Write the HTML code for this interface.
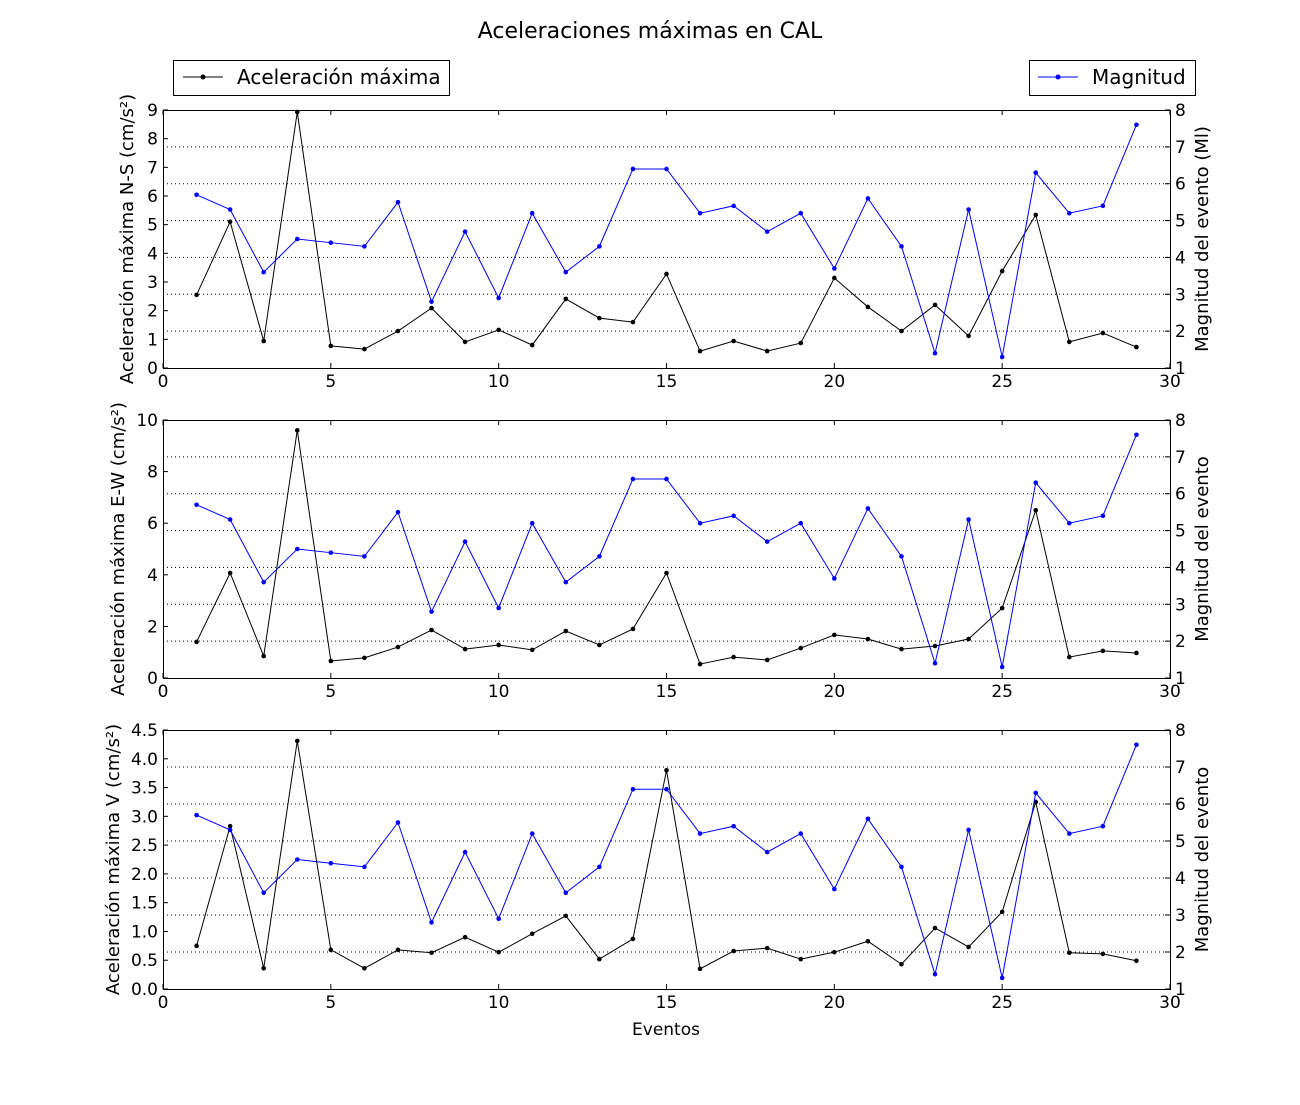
<!DOCTYPE html>
<html><head><meta charset="utf-8"><style>
body{margin:0;background:#fff}
text{font-family:"DejaVu Sans","Liberation Sans",sans-serif}
</style></head><body>
<svg id="c" width="1300" height="1100" xmlns="http://www.w3.org/2000/svg">
<rect width="1300" height="1100" fill="#fff"/>
<text x="650" y="38" text-anchor="middle" font-size="22">Aceleraciones máximas en CAL</text>
<g>
<rect x="173.5" y="60.5" width="276" height="35" fill="#fff" stroke="#000"/>
<line x1="183" y1="77" x2="223" y2="77" stroke="#000"/><circle cx="203" cy="77" r="2.5"/>
<text x="237" y="84" font-size="20">Aceleración máxima</text></g>
<g>
<rect x="1029.5" y="60.5" width="166" height="35" fill="#fff" stroke="#000"/>
<line x1="1038" y1="77" x2="1078" y2="77" stroke="#00f"/><circle cx="1058" cy="77" r="2.5" fill="#00f"/>
<text x="1092" y="84" font-size="20">Magnitud</text></g>
<text x="666" y="1035" text-anchor="middle" font-size="17">Eventos</text>
</svg>
<script>
const events=[1,2,3,4,5,6,7,8,9,10,11,12,13,14,15,16,17,18,19,20,21,22,23,24,25,26,27,28,29];
const magnitud=[5.7,5.3,3.6,4.5,4.4,4.3,5.5,2.8,4.7,2.9,5.2,3.6,4.3,6.4,6.4,5.2,5.4,4.7,5.2,3.7,5.6,4.3,1.4,5.3,1.3,6.3,5.2,5.4,7.6];
const accNS=[2.55,5.1,0.94,8.93,0.77,0.66,1.29,2.09,0.91,1.33,0.8,2.41,1.74,1.6,3.28,0.59,0.94,0.59,0.87,3.14,2.13,1.29,2.2,1.12,3.38,5.34,0.91,1.22,0.73];
const accEW=[1.4,4.07,0.85,9.6,0.66,0.78,1.2,1.86,1.12,1.28,1.09,1.82,1.28,1.9,4.07,0.54,0.81,0.7,1.16,1.67,1.51,1.12,1.24,1.51,2.71,6.5,0.81,1.05,0.97];
const accV=[0.75,2.83,0.36,4.31,0.68,0.36,0.68,0.63,0.9,0.64,0.96,1.27,0.52,0.87,3.8,0.35,0.66,0.71,0.52,0.64,0.83,0.43,1.06,0.73,1.34,3.25,0.63,0.61,0.49];
const xTicks=[0,5,10,15,20,25,30];
const magTicks=[1,2,3,4,5,6,7,8];
const nsTicks=[0,1,2,3,4,5,6,7,8,9];
const ewTicks=[0,2,4,6,8,10];
const vTicks=[0,0.5,1.0,1.5,2.0,2.5,3.0,3.5,4.0,4.5];

const svg=document.getElementById('c');
const NS='http://www.w3.org/2000/svg';
function mk(t,a,p){const e=document.createElementNS(NS,t);for(const k in a)e.setAttribute(k,a[k]);(p||svg).appendChild(e);return e;}
const L=163,R=1170;
const xs=v=>L+(v-0)/30*(R-L);
function panel(top,bot,acc,ticks,ymax,dec,ylab,rlab,name){
  const g=mk('g',{});
  
  
  const ys=v=>bot-v/ymax*(bot-top);
  const ms=v=>bot-(v-1)/7*(bot-top);
  magTicks.forEach(t=>{if(t>1&&t<8)mk('line',{x1:L,x2:R,y1:ms(t),y2:ms(t),stroke:'#000','stroke-dasharray':'1,3','stroke-width':1},g);});
  mk('rect',{x:L+.5,y:top+.5,width:R-L,height:bot-top,fill:'none',stroke:'#000'},g);
  xTicks.forEach(t=>{const x=xs(t);
    mk('line',{x1:x,x2:x,y1:bot,y2:bot-5,stroke:'#000'},g);mk('line',{x1:x,x2:x,y1:top,y2:top+5,stroke:'#000'},g);
    const tx=mk('text',{x:x,y:bot+19,'text-anchor':'middle','font-size':17},g);tx.textContent=t;});
  ticks.forEach(t=>{const y=ys(t);
    mk('line',{x1:L,x2:L+5,y1:y,y2:y,stroke:'#000'},g);
    const tx=mk('text',{x:L-5,y:y+6,'text-anchor':'end','font-size':17},g);tx.textContent=dec?t.toFixed(1):t;});
  magTicks.forEach(t=>{const y=ms(t);
    mk('line',{x1:R-5,x2:R,y1:y,y2:y,stroke:'#000'},g);
    const tx=mk('text',{x:R+5,y:y+6,'font-size':17},g);tx.textContent=t;});
  const my=(top+bot)/2;
  const yl=mk('text',{x:0,y:0,'text-anchor':'middle','font-size':18,transform:`translate(${ylab[1]},${my}) rotate(-90)`},g);yl.textContent=ylab[0];
  
  
  const rl=mk('text',{x:0,y:0,'text-anchor':'middle','font-size':18,transform:`translate(1208,${my}) rotate(-90)`},g);rl.textContent=rlab;
  
  
  const p1=mk('polyline',{points:events.map((e,i)=>xs(e)+','+ys(acc[i])).join(' '),fill:'none',stroke:'#000'},g);
  
  
  events.forEach((e,i)=>{const c=mk('circle',{cx:xs(e),cy:ys(acc[i]),r:2.3,fill:'#000'},g);
    
    });
  const p2=mk('polyline',{points:events.map((e,i)=>xs(e)+','+ms(magnitud[i])).join(' '),fill:'none',stroke:'#00f'},g);
  
  
  events.forEach((e,i)=>{const c=mk('circle',{cx:xs(e),cy:ms(magnitud[i]),r:2.3,fill:'#00f'},g);
    
    });
}
panel(110,368,accNS,nsTicks,9,false,['Aceleración máxima N-S (cm/s²)',133],'Magnitud del evento (Ml)','panel-ns');
panel(420,678,accEW,ewTicks,10,false,['Aceleración máxima E-W (cm/s²)',124],'Magnitud del evento','panel-ew');
panel(730,989,accV,vTicks,4.5,true,['Aceleración máxima V (cm/s²)',119],'Magnitud del evento','panel-v');
</script>
</body></html>
